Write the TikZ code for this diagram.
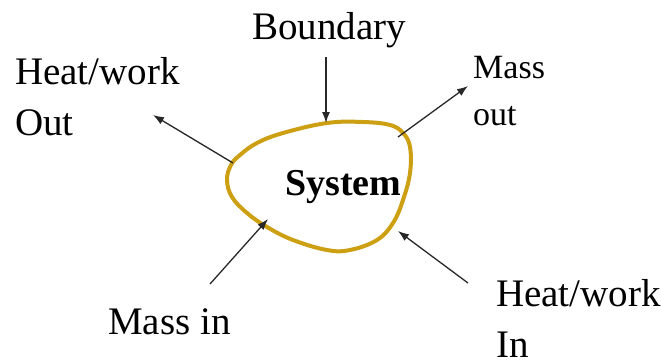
\documentclass[tikz,border=0pt]{standalone}
\usepackage{fontspec}
\setmainfont{Liberation Serif}
\usetikzlibrary{arrows.meta}
\definecolor{bnd}{RGB}{205,160,20}
\definecolor{arr}{RGB}{40,40,40}
\tikzset{
  lbl/.style={inner sep=0pt, anchor=base west, align=left, text=black},
  big/.style={font=\fontsize{39}{51}\selectfont},
  small/.style={font=\fontsize{34}{47}\selectfont},
  flow/.style={draw=arr, line width=1.3pt, -{Latex[length=11pt,width=8pt]}},
  boundary/.style={draw=bnd, line width=4pt}
}
\begin{document}
\begin{tikzpicture}[x=1pt,y=-1pt]
\useasboundingbox (0,0) rectangle (661,362);
% boundary curve
\draw[boundary] plot[smooth cycle, tension=0.65] coordinates {
  (227,180) (232,197) (247,213) (267,227) (293,240) (327,250) (350,250)
  (377,240) (393,223) (403,200) (410,173) (410,147) (403,133) (390,125)
  (363,122) (327,123) (283,133) (257,143) (240,155) (231,165)};
\node[inner sep=0pt, anchor=base west, font=\fontsize{38}{46}\selectfont\bfseries] (sys) at (285,195) {System};
% labels
\node[lbl,big] (bnd) at (252,39) {Boundary};
\node[lbl,big] (hwo) at (15,135) {Heat/work\\Out};
\node[lbl,small] (mo) at (473,125) {Mass\\out};
\node[lbl,big] (mi) at (108,334) {Mass in};
\node[lbl,big,text depth=0pt] (hwi) at (496,357) {Heat/work\\In};
% boundary points
\coordinate (bTop) at (326,123);
\coordinate (bUL) at (233,163);
\coordinate (bUR) at (398,137);
\coordinate (bLL) at (268,219);
\coordinate (bLR) at (398,231);
\coordinate (tBnd) at (326,57);
\coordinate (tHwo) at (153,115);
\coordinate (tMo) at (468,86);
\coordinate (tMi) at (210,284);
\coordinate (tHwi) at (468,283);
% arrows
\draw[flow] (tBnd) -- (bTop);
\draw[flow] (bUL) -- (tHwo);
\draw[flow] (bUR) -- (tMo);
\draw[flow] (tMi) -- (bLL);
\draw[flow] (tHwi) -- (bLR);
\end{tikzpicture}
\end{document}
